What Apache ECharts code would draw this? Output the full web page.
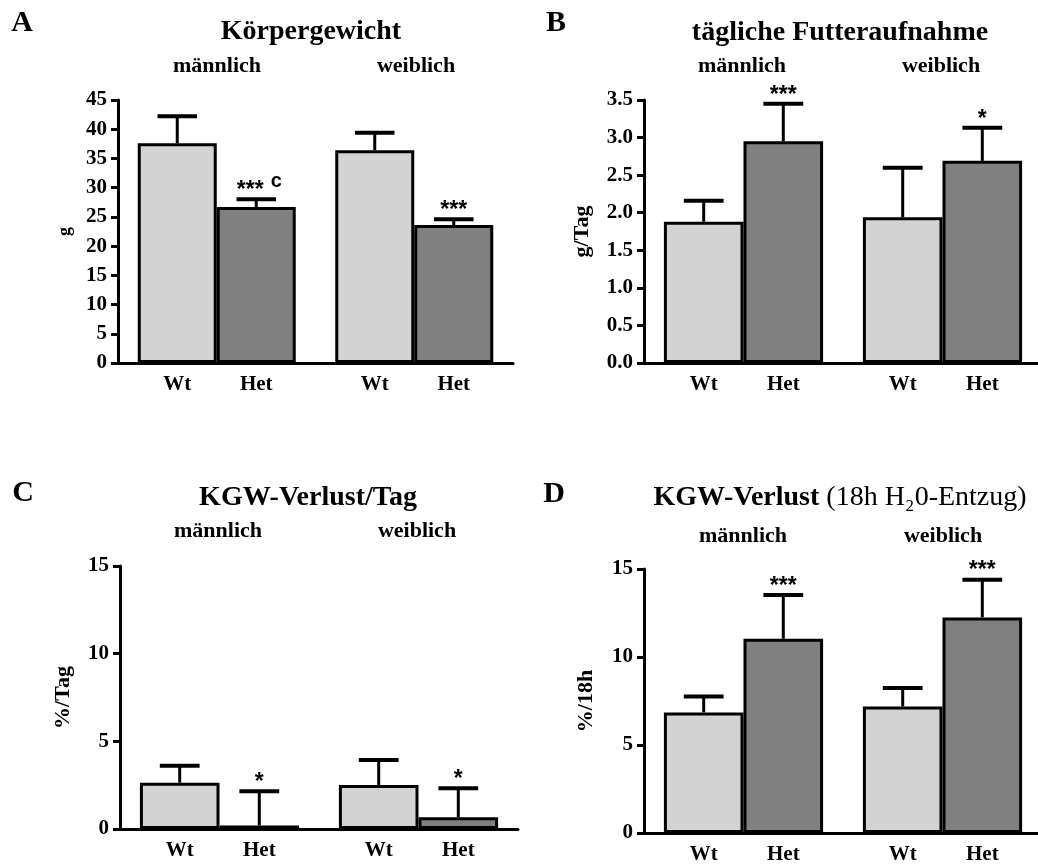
<!DOCTYPE html>
<html>
<head>
<meta charset="utf-8">
<title>Körpergewicht, Futteraufnahme, KGW-Verlust</title>
<script src="https://cdn.jsdelivr.net/npm/echarts@6/dist/echarts.min.js"></script>
<style>
	html, body { margin: 0; padding: 0; background: #fff; }
	#main { width: 1038px; height: 866px; }
</style>
</head>
<body>
<div id="main"></div>
<script>
// Gruppen und Genotypen
const groups = ['männlich', 'weiblich'];
const genotypes = ['Wt', 'Het'];

// A: Körpergewicht (g), Mittelwert und Fehlerbalken
const weightWt = [37.6, 36.4];
const weightHet = [26.7, 23.6];
const weightWtErr = [4.6, 3.0];
const weightHetErr = [1.3, 1.0];
const weightSig = ['***', '***'];
const weightNote = ['c', ''];

// B: tägliche Futteraufnahme (g/Tag)
const foodWt = [1.88, 1.94];
const foodHet = [2.95, 2.69];
const foodWtErr = [0.28, 0.66];
const foodHetErr = [0.50, 0.44];
const foodSig = ['***', '*'];

// C: KGW-Verlust pro Tag (%/Tag)
const lossDayWt = [2.64, 2.51];
const lossDayHet = [0.2, 0.67];
const lossDayWtErr = [0.97, 1.42];
const lossDayHetErr = [1.96, 1.65];
const lossDaySig = ['*', '*'];

// D: KGW-Verlust nach 18h Wasserentzug (%/18h)
const loss18Wt = [6.85, 7.19];
const loss18Het = [11.04, 12.25];
const loss18WtErr = [0.91, 1.05];
const loss18HetErr = [2.48, 2.14];
const loss18Sig = ['***', '***'];

// Achsen: Maximum und Schrittweite
const axisMax = [45, 3.5, 15, 15];
const axisStep = [5, 0.5, 5, 5];
const axisDigits = [0, 1, 0, 0];
const axisNames = ['g', 'g/Tag', '%/Tag', '%/18h'];

const serif = '"Liberation Serif", "Times New Roman", serif';
const sans = '"Liberation Sans", Arial, sans-serif';
const colWt = '#d3d3d3';
const colHet = '#808080';

let myChart = echarts.init(document.getElementById('main'));

// Panel-Layout
const panels = [
	{ grid: { left: 118, top: 100, width: 395, height: 263 }, nameSize: 18, nameGap: 44,
		wt: weightWt, het: weightHet, wtErr: weightWtErr, hetErr: weightHetErr, sig: weightSig, note: weightNote },
	{ grid: { left: 644, top: 100, width: 398, height: 263 }, nameSize: 22, nameGap: 51,
		wt: foodWt, het: foodHet, wtErr: foodWtErr, hetErr: foodHetErr, sig: foodSig },
	{ grid: { left: 120, top: 566, width: 398, height: 263 }, nameSize: 22, nameGap: 46,
		wt: lossDayWt, het: lossDayHet, wtErr: lossDayWtErr, hetErr: lossDayHetErr, sig: lossDaySig },
	{ grid: { left: 644, top: 569, width: 398, height: 264 }, nameSize: 22, nameGap: 47,
		wt: loss18Wt, het: loss18Het, wtErr: loss18WtErr, hetErr: loss18HetErr, sig: loss18Sig }
];

function textEl(text, x, y, font) {
	return {
		type: 'text',
		silent: true,
		style: {
			text: text, x: x, y: y, font: font, fill: '#000',
			align: 'center', verticalAlign: 'middle',
			textAlign: 'center', textVerticalAlign: 'middle'
		}
	};
}

// Fehlerbalken + Signifikanzsterne
function errorRenderer(p) {
	return function(params, api) {
		let cat = api.value(0);
		let sub = api.value(1);
		let mean = api.value(2);
		let err = api.value(3);
		let band = api.size([1, 0])[0];
		let barW = band * 0.8 / 2;
		let cx = api.coord([cat, 0])[0] + (sub === 0 ? -barW / 2 : barW / 2);
		let yMean = api.coord([cat, mean])[1];
		let yTop = api.coord([cat, mean + err])[1];
		let capW = barW * 0.5;
		let children = [
			{ type: 'line', shape: { x1: cx, y1: yMean, x2: cx, y2: yTop }, style: { stroke: '#000', lineWidth: 3 } },
			{ type: 'line', shape: { x1: cx - capW / 2, y1: yTop, x2: cx + capW / 2, y2: yTop }, style: { stroke: '#000', lineWidth: 4 } }
		];
		if (sub === 1) {
			let sig = p.sig[cat];
			let note = p.note ? p.note[cat] : '';
			if (note) {
				children.push(textEl(sig, cx - 6, yTop - 8.6, 'bold 23px ' + sans));
				children.push(textEl(note, cx + 20, yTop - 18, 'bold 20px ' + sans));
			} else if (sig) {
				children.push(textEl(sig, cx, yTop - 8.6, 'bold 23px ' + sans));
			}
		}
		return { type: 'group', children: children };
	};
}

let series = [];
panels.forEach(function(p, i) {
	[p.wt, p.het].forEach(function(vals, k) {
		series.push({
			name: genotypes[k],
			type: 'bar',
			xAxisIndex: i,
			yAxisIndex: i,
			barGap: '0%',
			barCategoryGap: '20%',
			itemStyle: { color: k === 0 ? colWt : colHet, borderColor: '#000', borderWidth: 3 },
			label: {
				show: true,
				position: 'bottom',
				distance: 11,
				formatter: genotypes[k],
				color: '#000',
				fontFamily: serif,
				fontWeight: 'bold',
				fontSize: 21
			},
			data: vals
		});
	});
	let errData = [];
	[[p.wt, p.wtErr], [p.het, p.hetErr]].forEach(function(pair, k) {
		pair[0].forEach(function(v, c) {
			errData.push([c, k, v, pair[1][c]]);
		});
	});
	series.push({
		type: 'custom',
		xAxisIndex: i,
		yAxisIndex: i,
		z: 5,
		clip: false,
		silent: true,
		encode: { x: 0, y: 2 },
		renderItem: errorRenderer(p),
		data: errData
	});
});

// Überschriften
const letterFont = 'bold 30px ' + serif;
const titleFont = 'bold 28px ' + serif;
const subFont = 'bold 22px ' + serif;

let graphics = [
	textEl('A', 22, 23, letterFont),
	textEl('B', 556, 23, letterFont),
	textEl('C', 23, 493, letterFont),
	textEl('D', 554, 494, letterFont),
	textEl('Körpergewicht', 311, 31.5, titleFont),
	textEl('tägliche Futteraufnahme', 840, 32.5, titleFont),
	textEl('KGW-Verlust/Tag', 308, 497.5, titleFont),
	{
		type: 'text',
		silent: true,
		style: {
			text: '{b|KGW-Verlust}{r| (18h H₂0-Entzug)}',
			x: 840, y: 497.5,
			align: 'center', verticalAlign: 'middle',
			textAlign: 'center', textVerticalAlign: 'middle',
			rich: {
				b: { fontFamily: serif, fontWeight: 'bold', fontSize: 28, fill: '#000', color: '#000' },
				r: { fontFamily: serif, fontWeight: 'normal', fontSize: 28, fill: '#000', color: '#000' }
			}
		}
	},
	textEl(groups[0], 217, 66.5, subFont),
	textEl(groups[1], 416, 66.5, subFont),
	textEl(groups[0], 742, 66.5, subFont),
	textEl(groups[1], 941, 66.5, subFont),
	textEl(groups[0], 218, 531.5, subFont),
	textEl(groups[1], 417, 531.5, subFont),
	textEl(groups[0], 743, 536, subFont),
	textEl(groups[1], 943, 536, subFont)
];

let option = {
	backgroundColor: '#fff',
	animation: false,
	grid: panels.map(function(p) {
		return Object.assign({ outerBoundsMode: 'none', containLabel: false }, p.grid);
	}),
	xAxis: panels.map(function(p, i) {
		return {
			gridIndex: i,
			type: 'category',
			data: groups,
			axisTick: { show: false },
			axisLabel: { show: false },
			axisLine: { lineStyle: { color: '#000', width: 3 } }
		};
	}),
	yAxis: panels.map(function(p, i) {
		return {
			gridIndex: i,
			type: 'value',
			min: 0,
			max: axisMax[i],
			interval: axisStep[i],
			name: axisNames[i],
			nameLocation: 'middle',
			nameRotate: 90,
			nameGap: p.nameGap,
			nameTextStyle: { color: '#000', fontFamily: serif, fontWeight: 'bold', fontSize: p.nameSize },
			axisLine: { show: true, lineStyle: { color: '#000', width: 3 } },
			axisTick: { show: true, length: 7, lineStyle: { color: '#000', width: 3 } },
			splitLine: { show: false },
			axisLabel: {
				color: '#000',
				fontFamily: serif,
				fontWeight: 'bold',
				fontSize: 21,
				margin: 11,
				formatter: function(v) { return v.toFixed(axisDigits[i]); }
			}
		};
	}),
	graphic: graphics,
	series: series
};

myChart.setOption(option);

window.addEventListener('resize', function() {
	myChart.resize();
});
</script>
</body>
</html>
